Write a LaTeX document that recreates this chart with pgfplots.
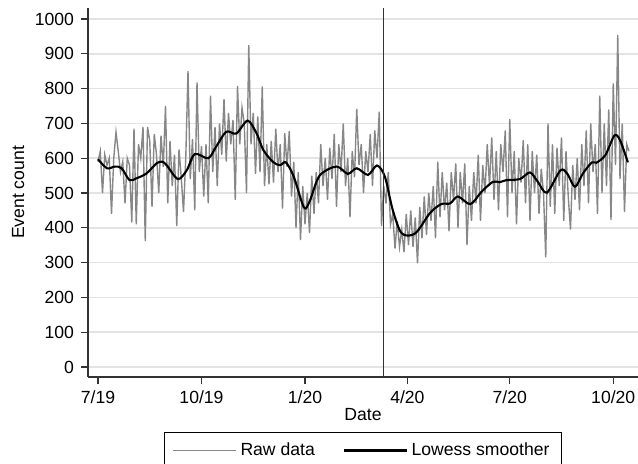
\documentclass[border=0pt]{standalone}
\usepackage{fontspec}
\setmainfont{Liberation Sans}
\usepackage{pgfplots}
\pgfplotsset{compat=1.18}
\definecolor{rawgray}{RGB}{135,135,135}
\begin{document}
\begin{tikzpicture}[font=\fontsize{8.8pt}{10.5pt}\selectfont]
\begin{axis}[
 name=ax,
 width=275pt, height=184.5pt, scale only axis,
 xmin=-8.9, xmax=480, ymin=-28.7, ymax=1031.6,
 axis x line*=bottom, axis y line*=left,
 axis line style={line width=0.6pt, color=black!80},
 xtick={0,92,184,275,366,458},
 xticklabels={7/19,10/19,1/20,4/20,7/20,10/20},
 ytick={0,100,...,1000},
 tick align=outside, major tick length=3.5pt,
 tick style={line width=0.6pt, black!80},
 ymajorgrids, grid style={line width=0.75pt, gray!22},
 /pgf/number format/assume math mode=true,
 yticklabel style={/pgf/number format/1000 sep={}},
 xlabel={Date}, ylabel={Event count},
 xlabel style={at={(axis description cs:0.5,-0.103)}, anchor=center},
 ylabel style={at={(axis description cs:-0.127,0.5)}, anchor=center},
 legend columns=2,
 legend style={at={(0.5,-0.149)}, anchor=north, draw=black, line width=0.6pt,
   inner xsep=4pt, inner ysep=3pt,
   /tikz/every even column/.append style={column sep=12pt}},
 legend cell align=left,
 legend image code/.code={\draw[#1] (0cm,0cm) -- (1.1cm,0cm);},
]
\addplot[rawgray, line width=0.7pt] coordinates {
(0,590)(2,620)(4,500)(6,610)(8,580)(10,600)(12,440)(14,600)(16,675)(18,620)
(20,560)(22,590)(24,470)(26,600)(28,580)(30,415)(32,685)(34,410)(36,640)(38,600)
(40,690)(42,362)(44,690)(46,650)(48,460)(50,670)(52,610)(54,500)(56,665)(58,575)
(60,750)(62,470)(64,650)(66,520)(68,610)(70,405)(72,625)(74,545)(76,445)(78,600)
(80,850)(82,540)(84,655)(86,450)(88,818)(90,560)(92,635)(94,490)(96,640)(98,470)
(100,780)(102,560)(104,690)(106,520)(108,700)(110,610)(112,770)(114,590)(116,730)(118,640)
(120,710)(122,480)(124,808)(126,640)(128,745)(130,700)(132,500)(134,925)(136,640)(138,730)
(140,555)(142,720)(144,560)(146,806)(148,520)(150,640)(152,525)(154,650)(156,530)(158,685)
(160,560)(162,640)(164,455)(166,672)(168,575)(170,678)(172,490)(174,590)(176,400)(178,560)
(180,365)(182,520)(184,410)(186,500)(188,385)(190,550)(192,440)(194,560)(196,470)(198,640)
(200,520)(202,600)(204,480)(206,630)(208,540)(210,670)(212,460)(214,640)(216,560)(218,700)
(220,520)(222,600)(224,430)(226,620)(228,545)(230,742)(232,580)(234,640)(236,500)(238,620)
(240,560)(242,670)(244,520)(246,680)(248,600)(250,734)(252,405)(254,520)(256,470)(258,560)
(260,410)(262,440)(264,340)(266,420)(268,345)(270,395)(272,330)(274,440)(276,350)(278,450)
(280,345)(282,430)(284,298)(286,460)(288,370)(290,490)(292,380)(294,500)(296,420)(298,520)
(300,370)(302,590)(304,430)(306,560)(308,450)(310,530)(312,390)(314,560)(316,480)(318,585)
(320,400)(322,560)(324,470)(326,585)(328,350)(330,520)(332,420)(334,560)(336,470)(338,610)
(340,420)(342,580)(344,500)(346,640)(348,520)(350,660)(352,480)(354,620)(356,450)(358,640)
(360,560)(362,680)(364,430)(366,712)(368,500)(370,620)(372,410)(374,600)(376,530)(378,652)
(380,470)(382,640)(384,420)(386,620)(388,500)(390,610)(392,440)(394,570)(396,500)(398,315)
(400,700)(402,460)(404,640)(406,440)(408,630)(410,520)(412,660)(414,420)(416,620)(418,490)
(420,395)(422,580)(424,480)(426,600)(428,450)(430,640)(432,520)(434,680)(436,470)(438,700)
(440,560)(442,640)(444,440)(446,780)(448,500)(450,700)(452,520)(454,740)(456,422)(458,815)
(460,580)(462,954)(464,540)(466,700)(468,446)(470,640)(472,620)
};
\addlegendentry{Raw data}
\addplot[black, line width=1.05pt, smooth] coordinates {
(0,597)(8,571)(15,576)(21,571)(28,537)(34,542)(43,556)(52,585)(57,590)(61,580)
(71,540)(79,566)(86,612)(98,600)(105,633)(114,676)(123,671)(133,708)(141,671)(147,623)
(156,588)(162,580)(167,588)(174,547)(183,459)(188,475)(197,550)(212,576)(222,555)(230,571)
(240,552)(248,579)(255,547)(262,451)(270,384)(282,384)(295,442)(305,468)(313,470)(320,490)
(331,468)(341,504)(351,532)(357,531)(363,537)(375,540)(384,559)(391,532)(399,501)(411,565)
(417,556)(424,518)(431,556)(439,588)(443,587)(451,609)(459,665)(464,652)(471,588)
};
\addlegendentry{Lowess smoother}
\addplot[black!80, line width=0.6pt, forget plot] coordinates {(254,-28.7)(254,1031.6)};
\end{axis}
\pgfresetboundingbox
\path[use as bounding box] ([xshift=-44pt,yshift=-43.5pt]ax.south west) rectangle ([yshift=4pt]ax.north east);
\end{tikzpicture}
\end{document}
